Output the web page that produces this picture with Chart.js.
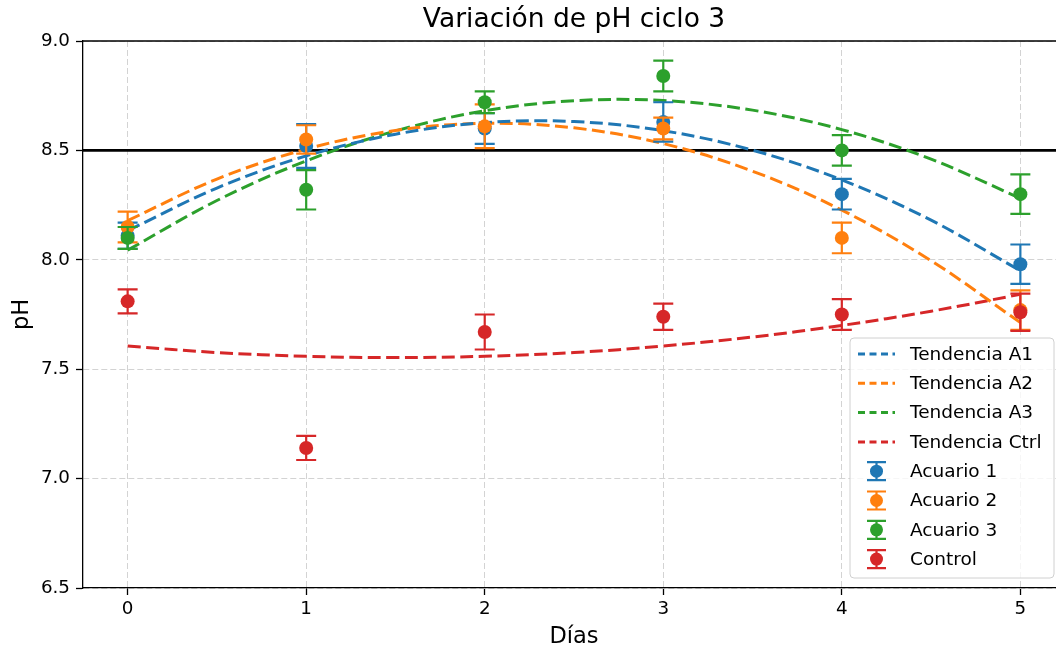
<!DOCTYPE html>
<html><head><meta charset="utf-8">
<script src="https://cdn.jsdelivr.net/npm/chart.js@4.4.0/dist/chart.umd.min.js"></script>
<style>
html,body{margin:0;padding:0;background:#fff;overflow:hidden;width:1056px;height:653px;}
#wrap{position:relative;width:1076px;height:653px;}
</style></head><body>
<div id="wrap"><canvas id="c"></canvas></div>
<script>
// ---- data ----
const dias = [0, 1, 2, 3, 4, 5];
const acuario1 = [8.11, 8.52, 8.60, 8.63, 8.30, 7.98];
const err1     = [0.06, 0.10, 0.07, 0.09, 0.07, 0.09];
const acuario2 = [8.15, 8.55, 8.61, 8.60, 8.10, 7.77];
const err2     = [0.07, 0.065, 0.10, 0.05, 0.07, 0.09];
const acuario3 = [8.10, 8.32, 8.72, 8.84, 8.50, 8.30];
const err3     = [0.05, 0.09, 0.05, 0.07, 0.07, 0.09];
const control  = [7.81, 7.14, 7.67, 7.74, 7.75, 7.76];
const errC     = [0.055, 0.055, 0.08, 0.06, 0.07, 0.085];

const trendX    = [0, 0.5, 1, 1.5, 2, 2.5, 3, 3.5, 4, 4.5, 5];
const tendA1    = [8.133, 8.328, 8.475, 8.574, 8.627, 8.632, 8.590, 8.501, 8.365, 8.181, 7.950];
const tendA2    = [8.179, 8.369, 8.506, 8.591, 8.624, 8.603, 8.531, 8.405, 8.227, 7.996, 7.713];
const tendA3    = [8.044, 8.271, 8.452, 8.589, 8.681, 8.727, 8.728, 8.684, 8.595, 8.460, 8.281];
const tendCtrl  = [7.606, 7.576, 7.559, 7.553, 7.559, 7.576, 7.606, 7.647, 7.700, 7.765, 7.842];

const xTicks = [0, 1, 2, 3, 4, 5];
const yTicks = [6.5, 7.0, 7.5, 8.0, 8.5, 9.0];
const refLine = 8.5;

const C1 = '#1f77b4', C2 = '#ff7f0e', C3 = '#2ca02c', CC = '#d62728';
const FONT = "'DejaVu Sans', sans-serif";
const TICK_SIZE = 18.3, LEG_SIZE = 18.5;

const pts = (xs, ys) => xs.map((x, i) => ({x: x, y: ys[i]}));

function trendDs(label, ys, color) {
  return {label, data: pts(trendX, ys), showLine: true, borderColor: color, backgroundColor: color,
    borderWidth: 3, borderDash: [13, 5.5], pointRadius: 0, tension: 0.35, order: 10, kind: 'trend'};
}
function errDs(label, ys, errs, color, order) {
  return {label, data: pts(dias, ys), errors: errs, backgroundColor: color, borderColor: color,
    borderWidth: 0, pointRadius: 7, pointHoverRadius: 7, order, kind: 'err'};
}

const datasets = [
  trendDs('Tendencia A1', tendA1, C1),
  trendDs('Tendencia A2', tendA2, C2),
  trendDs('Tendencia A3', tendA3, C3),
  trendDs('Tendencia Ctrl', tendCtrl, CC),
  errDs('Acuario 1', acuario1, err1, C1, 4),
  errDs('Acuario 2', acuario2, err2, C2, 3),
  errDs('Acuario 3', acuario3, err3, C3, 2),
  errDs('Control', control, errC, CC, 1),
];

const errPlugin = {
  id: 'errbars',
  beforeDatasetsDraw(chart) {
    const {ctx, chartArea: a, scales: {y}} = chart;
    const py = y.getPixelForValue(refLine);
    ctx.save();
    ctx.strokeStyle = '#000'; ctx.lineWidth = 2.6;
    ctx.beginPath(); ctx.moveTo(a.left, py); ctx.lineTo(a.right, py); ctx.stroke();
    ctx.lineWidth = 1.3;
    ctx.beginPath(); ctx.moveTo(a.left, a.top); ctx.lineTo(a.right, a.top);
    ctx.moveTo(a.right, a.top); ctx.lineTo(a.right, a.bottom); ctx.stroke();
    ctx.restore();
  },
  beforeDatasetDraw(chart, args) {
    const ds = chart.data.datasets[args.index];
    if (!ds.errors) return;
    const {ctx, scales: {x, y}} = chart;
    ctx.save();
    ctx.strokeStyle = ds.backgroundColor;
    ctx.lineWidth = 2.2;
    ds.data.forEach((p, i) => {
      const px = x.getPixelForValue(p.x);
      const y1 = y.getPixelForValue(p.y + ds.errors[i]);
      const y2 = y.getPixelForValue(p.y - ds.errors[i]);
      ctx.beginPath();
      ctx.moveTo(px, y1); ctx.lineTo(px, y2);
      ctx.moveTo(px - 10, y1); ctx.lineTo(px + 10, y1);
      ctx.moveTo(px - 10, y2); ctx.lineTo(px + 10, y2);
      ctx.stroke();
    });
    ctx.restore();
  }
};

const legendPlugin = {
  id: 'legendBox',
  afterDraw(chart) {
    const {ctx, chartArea: a} = chart;
    const bw = 204, bh = 240;
    const bx = a.right - 11 - bw, by = a.bottom - 10 - bh;
    ctx.save();
    const r = 4;
    ctx.beginPath();
    ctx.moveTo(bx + r, by); ctx.lineTo(bx + bw - r, by); ctx.quadraticCurveTo(bx + bw, by, bx + bw, by + r);
    ctx.lineTo(bx + bw, by + bh - r); ctx.quadraticCurveTo(bx + bw, by + bh, bx + bw - r, by + bh);
    ctx.lineTo(bx + r, by + bh); ctx.quadraticCurveTo(bx, by + bh, bx, by + bh - r);
    ctx.lineTo(bx, by + r); ctx.quadraticCurveTo(bx, by, bx + r, by);
    ctx.closePath();
    ctx.fillStyle = 'rgba(255,255,255,0.8)'; ctx.fill();
    ctx.strokeStyle = '#d0d0d0'; ctx.lineWidth = 1; ctx.stroke();
    ctx.font = LEG_SIZE + 'px ' + FONT; ctx.textBaseline = 'middle'; ctx.textAlign = 'left';
    const items = chart.data.datasets;
    items.forEach((ds, i) => {
      const cy = by + 16 + i * 29.3;
      const hx = bx + 8;
      const color = ds.borderColor;
      if (ds.kind === 'trend') {
        ctx.save();
        ctx.strokeStyle = color; ctx.lineWidth = 3; ctx.setLineDash([7, 4.5]);
        ctx.beginPath(); ctx.moveTo(hx, cy); ctx.lineTo(hx + 37, cy); ctx.stroke();
        ctx.restore();
      } else {
        const cx = hx + 18.5;
        ctx.save();
        ctx.strokeStyle = color; ctx.lineWidth = 2.2;
        ctx.beginPath();
        ctx.moveTo(cx, cy - 9); ctx.lineTo(cx, cy + 9);
        ctx.moveTo(cx - 9.5, cy - 9); ctx.lineTo(cx + 9.5, cy - 9);
        ctx.moveTo(cx - 9.5, cy + 9); ctx.lineTo(cx + 9.5, cy + 9);
        ctx.stroke();
        ctx.fillStyle = color;
        ctx.beginPath(); ctx.arc(cx, cy, 6.5, 0, Math.PI * 2); ctx.fill();
        ctx.restore();
      }
      ctx.fillStyle = '#000';
      ctx.fillText(ds.label, bx + 60, cy + 1);
    });
    ctx.restore();
  }
};

new Chart(document.getElementById('c'), {
  type: 'scatter',
  data: {datasets},
  plugins: [errPlugin, legendPlugin],
  options: {
    responsive: true, maintainAspectRatio: false, animation: false, devicePixelRatio: 1,
    layout: {padding: {left: 0, right: 11, top: 0, bottom: 0}},
    plugins: {
      legend: {display: false},
      tooltip: {enabled: false},
      title: {display: true, text: 'Variación de pH ciclo 3', fullSize: false, color: '#000',
        font: {family: FONT, size: 26.5, weight: 'normal'}, padding: {top: 4, bottom: 5.2}}
    },
    scales: {
      x: {
        type: 'linear', min: -0.25, max: 5.25,
        afterBuildTicks: s => { s.ticks = xTicks.map(v => ({value: v})); },
        afterFit: s => { s.height = 65; },
        ticks: {color: '#000', font: {family: FONT, size: TICK_SIZE}, padding: 3.5, callback: v => String(v)},
        grid: {color: '#d3d3d3', lineWidth: 1, tickColor: '#000', tickLength: 7, tickWidth: 1.3},
        border: {color: '#000', width: 1.3, dash: [6, 3]},
        title: {display: true, text: 'Días', color: '#000', font: {family: FONT, size: 22.5}, padding: {top: 0, bottom: 2.5}}
      },
      y: {
        type: 'linear', min: 6.5, max: 9.0,
        afterBuildTicks: s => { s.ticks = yTicks.map(v => ({value: v})); },
        afterFit: s => { s.width = 83; },
        ticks: {color: '#000', font: {family: FONT, size: TICK_SIZE}, padding: 6, callback: v => v.toFixed(1)},
        grid: {color: '#d3d3d3', lineWidth: 1, tickColor: '#000', tickLength: 7, tickWidth: 1.3},
        border: {color: '#000', width: 1.3, dash: [6, 3]},
        title: {display: true, text: 'pH', color: '#000', font: {family: FONT, size: 22.5}, padding: {top: 8.5, bottom: 0}}
      }
    }
  }
});
</script></body></html>
